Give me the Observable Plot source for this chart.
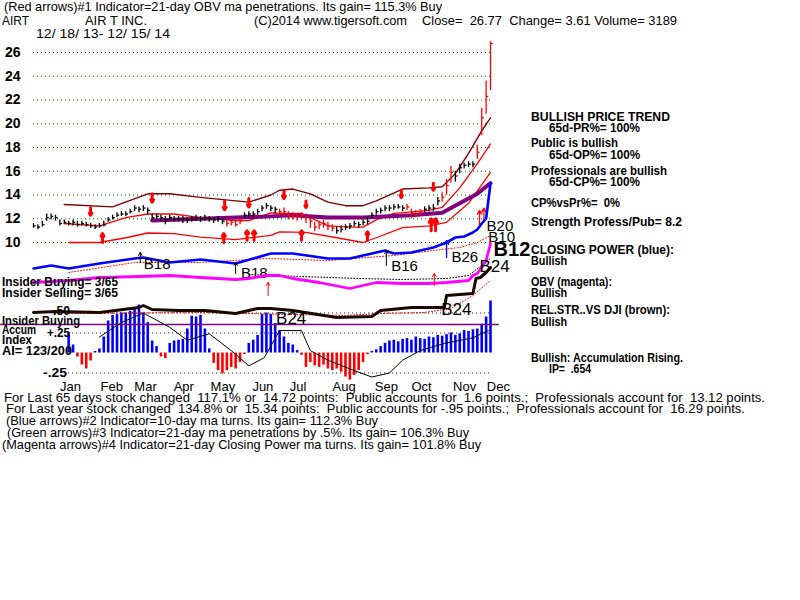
<!DOCTYPE html>
<html><head><meta charset="utf-8">
<script src="https://cdn.jsdelivr.net/npm/d3@7"></script>
<script src="https://cdn.jsdelivr.net/npm/@observablehq/plot@0.6"></script>
<style>
body{margin:0;background:#fff;}
#wrap{position:relative;width:800px;height:600px;overflow:hidden;background:#fff;}
#wrap svg{position:absolute;left:0;top:0;}
.t{position:absolute;white-space:pre;font-family:"Liberation Sans Narrow","Liberation Sans",Arial,sans-serif;font-size:13px;line-height:14px;color:#000;transform-origin:0 50%;}
.b{font-family:"Liberation Sans",Arial,sans-serif;font-weight:bold;font-size:12px;}
</style></head><body><div id="wrap"></div>
<script>
// ---------- DATA ----------
const close = [11.4,11.3,11.5,12.1,12.2,12.1,11.6,11.7,11.6,11.7, 11.5,11.6,11.5,11.4,11.3,11.4,11.5,11.9,12.1,12.3,
 12.4,12.4,12.6,12.9,12.8,12.9,12.7,12.1,12.2,12.1, 11.9,12.1,12.0,12.0,12.0,11.9,12.0,12.1,12.0,12.1,
 12.0,11.9,12.0,11.8,11.6,11.7,11.5,11.8,12.3,12.4, 12.4,12.6,12.9,13.1,12.9,12.8,12.6,12.6,12.3,12.3,
 12.2,12.3,12.2,11.8,11.3,11.5,11.6,11.4,11.2,11.0, 11.1,11.3,11.4,11.6,11.5,11.7,11.8,12.3,12.6,12.7,
 12.9,12.9,13.0,13.0,12.9,13.0,12.5,12.4,12.6,12.8, 12.9,12.9,13.5,13.8,14.8,15.9,15.6,16.3,16.5,16.6,
 16.6,17.6,20.5,22.3,26.77];
const high = [11.6,11.5,11.8,12.4,12.4,12.3,11.9,11.9,11.8,11.9, 11.8,11.8,11.7,11.6,11.5,11.6,11.8,12.1,12.3,12.5,
 12.6,12.6,12.8,13.1,13.0,13.1,12.9,12.4,12.4,12.3, 12.2,12.3,12.2,12.2,12.2,12.1,12.2,12.3,12.2,12.3,
 12.2,12.1,12.2,12.0,11.9,11.9,11.8,12.0,12.5,12.6, 12.6,12.8,13.1,13.3,13.1,13.0,12.8,12.9,12.6,12.5,
 12.4,12.5,12.4,12.1,11.7,11.8,11.9,11.7,11.5,11.3, 11.4,11.5,11.6,11.8,11.7,11.9,12.1,12.5,12.8,12.9,
 13.1,13.1,13.2,13.2,13.1,13.2,12.8,12.7,12.8,13.0, 13.1,13.2,13.8,14.2,15.3,16.4,16.0,16.6,16.7,16.8,
 16.8,18.2,21.3,23.6,26.9];
const low = [11.2,11.1,11.3,11.8,11.9,11.8,11.4,11.5,11.4,11.4, 11.3,11.4,11.3,11.2,11.1,11.2,11.3,11.7,11.9,12.1,
 12.2,12.2,12.4,12.6,12.5,12.6,12.3,11.8,11.9,11.8, 11.5,11.8,11.7,11.7,11.6,11.6,11.7,11.8,11.7,11.8,
 11.7,11.6,11.7,11.5,11.3,11.4,11.3,11.5,12.0,12.1, 12.1,12.3,12.6,12.8,12.6,12.4,12.2,12.2,11.9,11.9,
 11.8,11.9,11.6,11.2,10.9,11.1,11.2,11.0,10.9,10.7, 10.8,11.0,11.1,11.3,11.2,11.4,11.5,12.0,12.3,12.4,
 12.6,12.6,12.7,12.8,12.6,12.7,12.0,12.1,12.3,12.5, 12.6,12.6,13.1,13.4,14.0,15.0,15.1,15.8,16.2,16.3,
 16.3,17.0,19.0,20.8,22.8];
const redBars = [44,45,46,47,56,57,58,59,60,61,62,63,64,65,66,67,68,85,86,87,88,93,94,95,101,102,103,104];

const gridPrices = [10,12,14,16,18,20,22,24,26];

const upperBand = [[7,13.2],[18,13.0],[26,14.1],[31,14.1],[38,13.8],[49,13.4],[54,14.0],[56,14.4],[59,14.5],[63,14.1],
 [67,13.4],[71,13.1],[75,13.1],[78,13.5],[84,14.5],[90,14.6],[93,14.7],[96,15.8],[99,17.5],[102,19.4],[104,20.5]];
const midBand = [[7,11.6],[15,11.4],[21,12.1],[26,12.4],[32,12.4],[38,12.1],[46,11.85],[49,11.85],[54,12.5],[56,12.45],
 [61,12.45],[67,11.4],[72,11.3],[75,11.3],[78,11.9],[82,12.45],[90,12.7],[93,12.95],[97,14.6],[101,16.65],[104,18.3]];
const lowerBand = [[8,10.0],[15,10.0],[21,10.4],[26,10.8],[32,10.75],[38,10.45],[46,10.25],[54,10.6],[56,10.9],[62,10.85],
 [69,10.4],[75,10.0],[78,10.4],[84,11.25],[90,11.4],[94,11.7],[99,13.3],[104,15.9]];
const longMA = [[27,11.85],[38,12.0],[54,12.2],[59,12.3],[67,12.1],[75,12.1],[86,12.3],[93,12.5],[97,13.3],[101,14.1],[104,15.0]];

const sellArrows = [[13,12.95,12.3],[27,14.1,13.4],[43.5,13.5,12.75],[49,13.7,13.0],[57,14.4,13.7],[62,13.5,12.95],[83.7,14.4,13.8],[91,15.0,14.4]];
const buyArrows = [[15.7,10.0,10.75],[43.3,10.0,10.75],[48.6,10.2,11.0],[50.2,10.2,11.0],[61,10.2,11.0],[76,10.2,10.9],[90.5,11.0,12.0],[91.5,11.0,12.0]];
const thinBuyArrows = [[101.5,11.5,12.7],[102.5,11.7,12.9]];

const closingPower = [[0,2],[4,5],[8,2],[15,7],[23,12],[25,13],[31,8],[38,11],[46,7],[50,12],[54,17],[59,17],[67,12],
 [72,12],[77,17],[80,20],[82,17],[86,18],[91,23],[94,28],[96,33],[98,34],[100,38],[101,41],[102,47],[103,52],[103.6,73],[104,87]];
const cpMA = [[8,-2],[23,8],[38,8],[53,12],[67,10],[82,15],[91,20],[97,23],[101,28],[104,35]];
const cpSignalArrows = [[24.3,8,18],[46,-3,8],[80.3,5,20]];
const cpBlueArrow = [[94,13,30]];
const cpLabels = [[25.1,6,"B18"],[47.2,-3,"B18"],[81.4,4,"B16"],[95.1,13,"B26"],[103.1,44,"B20"],[103.5,33,"B10"]];
const cpBigLabel = [[104.7,21,"B12"]];

const obv = [[0,8],[8,10],[15,13],[24,14],[31,15],[38,13],[46,11],[49,12],[53,15],[56,15],[59,12],[65,8],[72,2],
 [78,8],[84,7],[90,7],[94,8],[99,10],[100,15],[101,17],[102,23],[103,30],[103.6,40],[104,47]];
const obvMA = [[49,16],[61,14],[74,12],[84,11],[94,12],[99,15],[104,32]];
const obvArrows = [[53.4,-5,8],[91.2,5,17]];
const obvLabels = [[101.5,24,"B24"]];

const relStr = [[0,8],[5,9],[15,8],[24,13],[25,15],[27,11],[33,10],[39,10],[46,7],[51,12],[54,12],[59,10],[69,3],
 [77,4],[79,10],[86,13],[93.5,13],[94,25],[100,27],[100.7,42],[101.7,43],[103,48],[104,53]];
const relStrMA = [[8,7],[38,8],[59,6],[71,5],[79,7],[89,8],[95,12],[100,25],[104,40]];
const rsLabels = [[55.2,2,"B24"],[92.8,11,"B24"]];

const aiStart = 8;
const accum = [0.25,0.10,-0.05,-0.15,-0.20,-0.10,0.02,0.05,0.20,0.40, 0.47,0.48,0.50,0.50,0.52,0.55,0.60,0.50,0.38,0.15,
 0.08,-0.05,-0.07,0.12,0.15,0.16,0.17,0.30,0.46,0.45, 0.47,0.30,0.05,-0.13,-0.22,-0.26,-0.22,-0.18,-0.20,-0.12,
 -0.02,0.12,0.16,0.22,0.48,0.50,0.48,0.37,0.28,0.20, 0.12,0.10,0.03,-0.03,-0.18,-0.12,-0.16,-0.18,-0.15,-0.20,
 -0.22,-0.20,-0.24,-0.30,-0.34,-0.28,-0.22,-0.12,-0.02,0.02, 0.04,0.08,0.12,0.15,0.16,0.14,0.17,0.18,0.16,0.20,
 0.18,0.17,0.20,0.19,0.22,0.21,0.23,0.25,0.22,0.24, 0.28,0.27,0.29,0.30,0.36,0.45,0.65];
const accumMA = [[15,0.20],[20,0.38],[25,0.5],[31,0.32],[35,0.16],[40,0.24],[45,0.03],[49,-0.16],[52.5,-0.06],[56,0.28],
 [61,0.28],[63,0.03],[67,-0.09],[73,-0.22],[77,-0.30],[81,-0.25],[84,-0.09],[88,0.03],[93.5,0.12],[100,0.19],[103.5,0.28]];
const aiLevels = [-0.25,0.25,0.5];
const insiderLevel = [0.356];

const monthNames = ["Jan","Feb","Mar","Apr","May","Jun","Jul","Aug","Sep","Oct","Nov","Dec"];
const monthIdx = [8.4,17.8,25.5,34.2,43.1,52.2,60.2,70.7,80.3,88.3,98.1,105.8];

// ---------- BUILD ----------
const wrap = document.getElementById("wrap");
const bars = close.map((c,i)=>({i, c, h:high[i], l:low[i], red: redBars.includes(i)}));
const ai = accum.map((v,k)=>({i:k+aiStart, v}));
const lastIdx = close.length-1;
const X = d=>d[0], Y = d=>d[1];

function panel(y, marks){
  return Plot.plot({width:800,height:600,marginLeft:33,marginRight:310,marginTop:0,marginBottom:0,
    x:{domain:[0,lastIdx],axis:null}, y:{...y,axis:null},
    style:{background:"none",fontFamily:"Liberation Sans, Arial, sans-serif",color:"#000"}, marks});
}

// price panel
wrap.appendChild(panel({domain:[10,26],range:[242,52]},[
  Plot.gridY(gridPrices,{stroke:"#007000",strokeOpacity:1,strokeDasharray:"1,3"}),
  Plot.axisY(gridPrices,{anchor:"left",tickSize:0,tickPadding:13,fontSize:14,fontWeight:"bold",label:null,fill:"#000"}),
  Plot.line(lowerBand,{x:X,y:Y,stroke:"#ff0000",strokeWidth:1.3}),
  Plot.line(midBand,{x:X,y:Y,stroke:"#ff0000",strokeWidth:1.3}),
  Plot.line(upperBand,{x:X,y:Y,stroke:"#800000",strokeWidth:1.4}),
  Plot.line(longMA,{x:X,y:Y,stroke:"#800080",strokeWidth:4}),
  Plot.ruleX(bars,{x:"i",y1:"l",y2:"h",stroke:d=>d.red?"#ff0000":"#000",strokeWidth:1.3}),
  Plot.link(bars,{x1:"i",x2:d=>d.i+0.5,y1:"c",y2:"c",stroke:d=>d.red?"#ff0000":"#000",strokeWidth:1.3}),
  Plot.arrow(sellArrows,{x1:X,x2:X,y1:Y,y2:d=>d[2],stroke:"#ff0000",strokeWidth:3,headLength:6}),
  Plot.arrow(buyArrows,{x1:X,x2:X,y1:Y,y2:d=>d[2],stroke:"#ff0000",strokeWidth:3,headLength:6}),
  Plot.arrow(thinBuyArrows,{x1:X,x2:X,y1:Y,y2:d=>d[2],stroke:"#ff0000",strokeWidth:1.3,headLength:5})
]));

// accumulation index panel
wrap.appendChild(panel({domain:[-0.25,0.5],range:[372.5,312.5]},[
  Plot.ruleY(aiLevels,{x1:aiStart,x2:lastIdx,stroke:"#000",strokeDasharray:"1,3"}),
  Plot.ruleX(ai,{x:"i",y1:0,y2:"v",stroke:d=>d.v>=0?"#0000ff":"#ff0000",strokeWidth:2.6}),
  Plot.ruleY(insiderLevel,{x1:-8,x2:lastIdx+2,stroke:"#800080",strokeWidth:1.3}),
  Plot.line(accumMA,{x:X,y:Y,stroke:"#000",strokeWidth:1})
]));

// closing power panel
wrap.appendChild(panel({domain:[0,80],range:[270,190]},[
  Plot.line(cpMA,{x:X,y:Y,stroke:"#ff0000",strokeWidth:1,strokeDasharray:"1,2"}),
  Plot.line(closingPower,{x:X,y:Y,stroke:"#0000ff",strokeWidth:2.6}),
  Plot.arrow(cpSignalArrows,{x1:X,x2:X,y1:Y,y2:d=>d[2],stroke:"#000",strokeWidth:1,headLength:5}),
  Plot.arrow(cpBlueArrow,{x1:X,x2:X,y1:Y,y2:d=>d[2],stroke:"#0000ff",strokeWidth:1.3,headLength:5}),
  Plot.text(cpLabels,{x:X,y:Y,text:d=>d[2],textAnchor:"start",fontSize:15,fill:"#000"}),
  Plot.text(cpBigLabel,{x:X,y:Y,text:d=>d[2],textAnchor:"start",fontSize:20,fontWeight:"bold",fill:"#000"})
]));

// OBV panel
wrap.appendChild(panel({domain:[0,50],range:[290,240]},[
  Plot.line(obvMA,{x:X,y:Y,stroke:"#000",strokeWidth:1,strokeDasharray:"1,2"}),
  Plot.line(obv,{x:X,y:Y,stroke:"#ff00ff",strokeWidth:2.8}),
  Plot.arrow(obvArrows,{x1:X,x2:X,y1:Y,y2:d=>d[2],stroke:"#ff0000",strokeWidth:1,headLength:5}),
  Plot.text(obvLabels,{x:X,y:Y,text:d=>d[2],textAnchor:"start",fontSize:17,fill:"#000"})
]));

// relative strength panel
wrap.appendChild(panel({domain:[0,60],range:[320,260]},[
  Plot.line(relStrMA,{x:X,y:Y,stroke:"#ff0000",strokeWidth:1,strokeDasharray:"1,2"}),
  Plot.line(relStr,{x:X,y:Y,stroke:"#1a0800",strokeWidth:3}),
  Plot.text(rsLabels,{x:X,y:Y,text:d=>d[2],textAnchor:"start",fontSize:17,fill:"#000"})
]));

// month labels
wrap.appendChild(Plot.plot({width:800,height:600,marginLeft:33,marginRight:310,marginTop:0,marginBottom:219,
  x:{domain:[0,lastIdx],axis:null},
  style:{background:"none",fontFamily:"Liberation Sans Narrow, Liberation Sans, Arial, sans-serif",color:"#000"},
  marks:[Plot.axisX(monthIdx,{anchor:"bottom",tickSize:0,tickPadding:0,fontSize:13,label:null,
    tickFormat:d=>monthNames[monthIdx.indexOf(d)]})]}));

// ---------- TEXT ----------
function put(str,x,y,w,cls){
  const d=document.createElement("div");
  d.className="t"+(cls?" "+cls:"");
  d.textContent=str;
  d.style.left=x+"px"; d.style.top=(y-7)+"px";
  wrap.appendChild(d);
  if(w){const m=d.getBoundingClientRect().width; if(m>0) d.style.transform="scaleX("+(w/m)+")";}
}
put("(Red arrows)#1 Indicator=21-day OBV ma penetrations. Its gain= 115.3% Buy",4,7,438);
put("AIRT",2,21,27);
put("AIR T INC.",85,21,62);
put("(C)2014 www.tigersoft.com",254,21,153);
put("Close=  26.77  Change= 3.61 Volume= 3189",422,21,255);
put("12/ 18/ 13- 12/ 15/ 14",36,34,134);

put("BULLISH PRICE TREND",531,117,139,"b");
put("65d-PR%= 100%",549,128,91,"b");
put("Public is bullish",531,143,87,"b");
put("65d-OP%= 100%",549,155,91,"b");
put("Professionals are bullish",531,171,136,"b");
put("65d-CP%= 100%",549,182,91,"b");
put("CP%vsPr%=  0%",531,203,89,"b");
put("Strength Profess/Pub= 8.2",531,222,151,"b");
put("CLOSING POWER (blue):",531,250,143,"b");
put("Bullish",531,261,36,"b");
put("OBV (magenta):",531,282,81,"b");
put("Bullish",531,293,36,"b");
put("REL.STR..VS DJI (brown):",531,310,139,"b");
put("Bullish",531,322,36,"b");
put("Bullish: Accumulation Rising.",531,358,152,"b");
put("IP=  .654",549,369,42,"b");

put("Insider Buying= 3/65",2,282,116,"b");
put("Insider Selling= 3/65",2,293,116,"b");
put(".50",53,311,17,"b");
put("Insider Buying",2,321,78,"b");
put("Accum",2,330,34,"b");
put("+.25",47,333,23,"b");
put("Index",2,340,30,"b");
put("AI= 123/200",2,351,70,"b");
put("-.25",43,373,24,"b");

put("For Last 65 days stock changed  117.1% or  14.72 points:  Public accounts for  1.6 points.;  Professionals account for  13.12 points.",4,398,761);
put("For Last year stock changed  134.8% or  15.34 points:  Public accounts for -.95 points.;  Professionals account for  16.29 points.",6,409,739);
put("(Blue arrows)#2 Indicator=10-day ma turns. Its gain= 112.3% Buy",6,421,372);
put("(Green arrows)#3 Indicator=21-day ma penetrations by .5%. Its gain= 106.3% Buy",7,433,462);
put("(Magenta arrows)#4 Indicator=21-day Closing Power ma turns. Its gain= 101.8% Buy",2,445,479);
</script></body></html>
